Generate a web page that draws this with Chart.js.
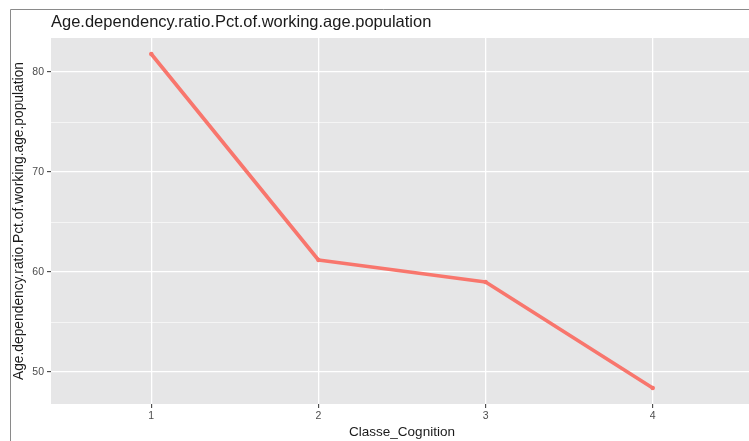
<!DOCTYPE html>
<html>
<head>
<meta charset="utf-8">
<script src="https://cdn.jsdelivr.net/npm/chart.js@4/dist/chart.umd.min.js"></script>
<style>
  html, body { margin: 0; padding: 0; background: #fff; overflow: hidden; }
  #wrap { width: 749px; height: 441px; overflow: hidden; }
</style>
</head>
<body>
<div id="wrap"><canvas id="chart" width="757" height="441"></canvas></div>
<script>
// --- data ---
const categories = [1, 2, 3, 4];
const ratioValues = [81.8, 61.2, 59.0, 48.4];
const xTicks = [1, 2, 3, 4];
const yMajorTicks = [50, 60, 70, 80];
const yMinorTicks = [55, 65, 75];

const titleText = 'Age.dependency.ratio.Pct.of.working.age.population';
const xTitle = 'Classe_Cognition';
const yTitle = 'Age.dependency.ratio.Pct.of.working.age.population';

const FONT = "'Liberation Sans', Arial, Helvetica, sans-serif";

// panel background, frame and title
const panelPlugin = {
    id: 'panel',
    beforeDraw(chart) {
        const c = chart.ctx, a = chart.chartArea;
        c.save();
        c.fillStyle = '#fff';
        c.fillRect(0, 0, chart.width, chart.height);
        c.fillStyle = '#E6E6E7';
        c.fillRect(a.left, a.top, a.right - a.left, a.bottom - a.top);
        c.restore();
    },
    afterDraw(chart) {
        const c = chart.ctx, a = chart.chartArea;
        c.save();
        // frame of the cropped screenshot
        c.strokeStyle = '#8a8a8a';
        c.lineWidth = 1;
        c.beginPath();
        c.moveTo(10.5, 441);
        c.lineTo(10.5, 9.5);
        c.lineTo(chart.width, 9.5);
        c.stroke();
        // plot title
        c.fillStyle = '#1a1a1a';
        c.font = '16.5px ' + FONT;
        c.textBaseline = 'middle';
        c.fillText(titleText, a.left, 22);
        c.restore();
    }
};

const ctx = document.getElementById('chart').getContext('2d');
new Chart(ctx, {
    type: 'line',
    data: {
        datasets: [{
            data: categories.map((c, i) => ({ x: c, y: ratioValues[i] })),
            borderColor: '#F8766D',
            backgroundColor: '#F8766D',
            borderWidth: 3.6,
            borderCapStyle: 'round',
            borderJoinStyle: 'round',
            pointRadius: 2.2,
            pointBorderWidth: 0,
            tension: 0
        }]
    },
    options: {
        responsive: false,
        animation: false,
        events: [],
        layout: { padding: { left: 10, top: 38, right: 0, bottom: 1 } },
        plugins: { legend: { display: false }, tooltip: { enabled: false } },
        scales: {
            x: {
                type: 'linear',
                min: 0.4,
                max: 4.6,
                afterBuildTicks: s => { s.ticks = xTicks.map(v => ({ value: v })); },
                afterFit: s => { s.height = 36; },
                border: { display: false },
                grid: {
                    color: '#ffffff',
                    lineWidth: 1.3,
                    drawTicks: true,
                    tickLength: 4,
                    tickColor: '#333333',
                    tickWidth: 1
                },
                ticks: {
                    padding: 2,
                    color: '#4d4d4d',
                    font: { family: FONT, size: 10.5 },
                    callback: v => String(v)
                },
                title: {
                    display: true,
                    text: xTitle,
                    color: '#1a1a1a',
                    font: { family: FONT, size: 13.5 },
                    padding: { top: 0, bottom: 0 }
                }
            },
            y: {
                type: 'linear',
                min: 46.8,
                max: 83.4,
                afterBuildTicks: s => {
                    s.ticks = yMajorTicks.concat(yMinorTicks).sort((a, b) => a - b).map(v => ({ value: v }));
                },
                afterFit: s => { s.width = 41; },
                border: { display: false },
                grid: {
                    color: '#ffffff',
                    lineWidth: c => yMajorTicks.includes(c.tick.value) ? 1.3 : 0.6,
                    drawTicks: true,
                    tickLength: 4,
                    tickColor: c => yMajorTicks.includes(c.tick.value) ? '#333333' : 'rgba(0,0,0,0)',
                    tickWidth: 1
                },
                ticks: {
                    padding: 3,
                    color: '#4d4d4d',
                    font: { family: FONT, size: 10.5 },
                    callback: v => yMajorTicks.includes(v) ? String(v) : ''
                },
                title: {
                    display: true,
                    text: yTitle,
                    color: '#1a1a1a',
                    font: { family: FONT, size: 13.8 },
                    padding: { top: 1, bottom: 0 }
                }
            }
        }
    },
    plugins: [panelPlugin]
});
</script>
</body>
</html>
